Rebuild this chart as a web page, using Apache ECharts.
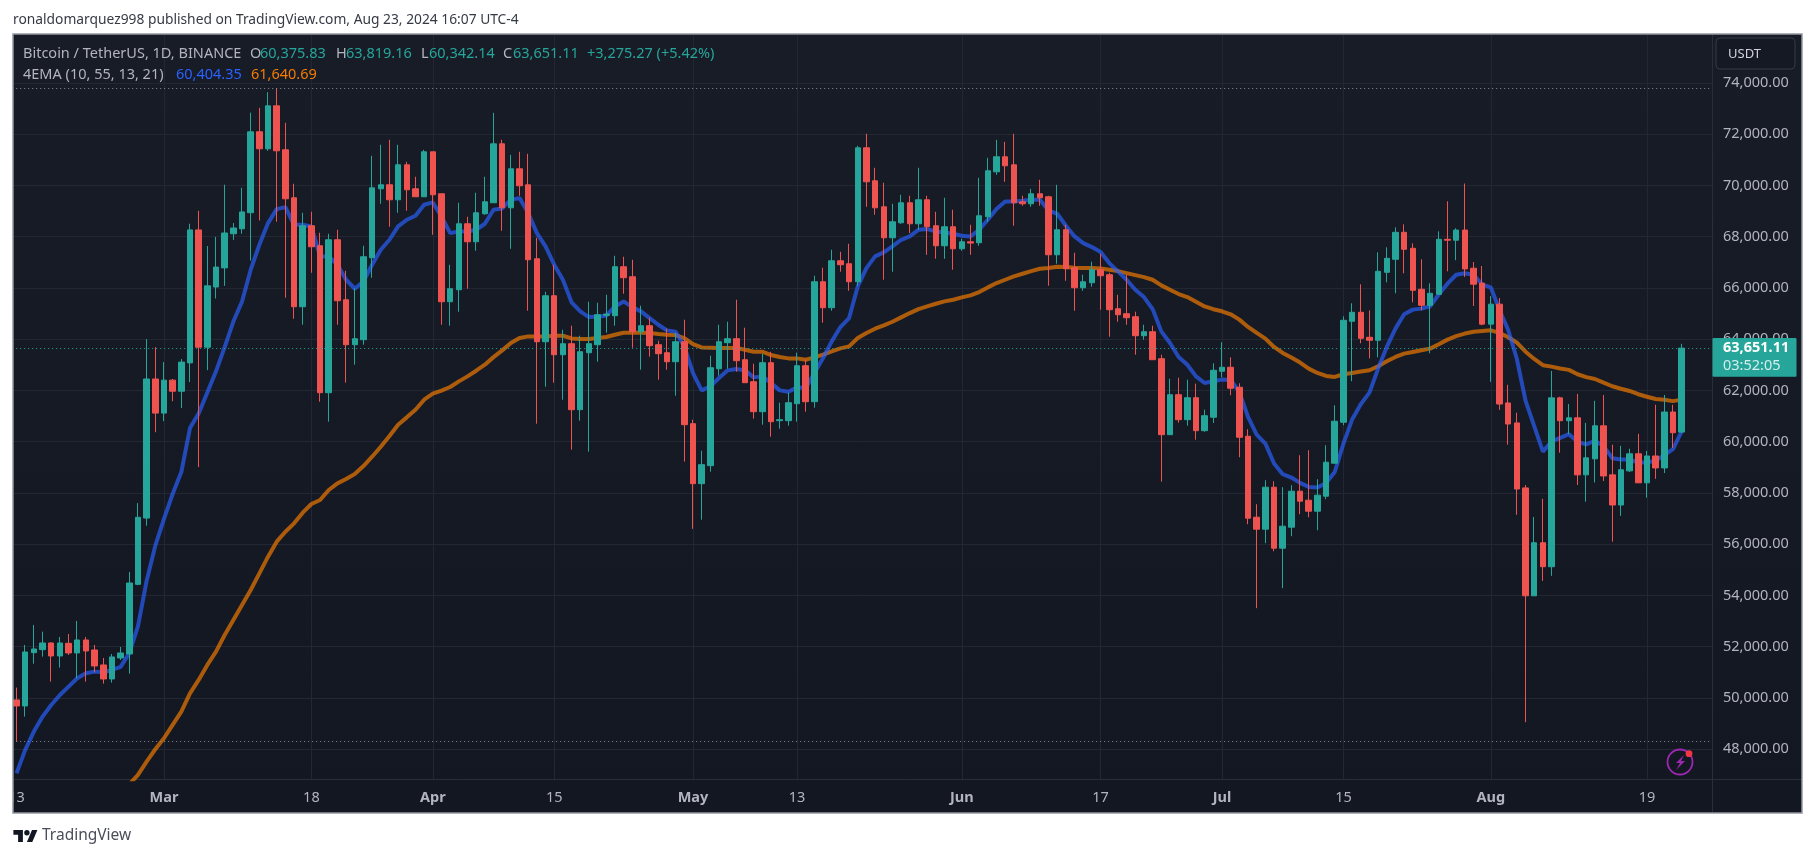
<!DOCTYPE html>
<html><head><meta charset="utf-8">
<style>html,body{margin:0;padding:0;background:#fff}#c{width:1815px;height:858px}</style>
<script src="https://cdn.jsdelivr.net/npm/echarts@6/dist/echarts.min.js"></script>
</head><body><div id="c"></div>
<script>
const categories = ["Feb 13","Feb 14","Feb 15","Feb 16","Feb 17","Feb 18","Feb 19","Feb 20","Feb 21","Feb 22","Feb 23","Feb 24","Feb 25","Feb 26","Feb 27","Feb 28","Feb 29",
"Mar 1","Mar 2","Mar 3","Mar 4","Mar 5","Mar 6","Mar 7","Mar 8","Mar 9","Mar 10","Mar 11","Mar 12","Mar 13","Mar 14","Mar 15","Mar 16","Mar 17","Mar 18","Mar 19","Mar 20","Mar 21","Mar 22","Mar 23","Mar 24","Mar 25","Mar 26","Mar 27","Mar 28","Mar 29","Mar 30","Mar 31",
"Apr 1","Apr 2","Apr 3","Apr 4","Apr 5","Apr 6","Apr 7","Apr 8","Apr 9","Apr 10","Apr 11","Apr 12","Apr 13","Apr 14","Apr 15","Apr 16","Apr 17","Apr 18","Apr 19","Apr 20","Apr 21","Apr 22","Apr 23","Apr 24","Apr 25","Apr 26","Apr 27","Apr 28","Apr 29","Apr 30",
"May 1","May 2","May 3","May 4","May 5","May 6","May 7","May 8","May 9","May 10","May 11","May 12","May 13","May 14","May 15","May 16","May 17","May 18","May 19","May 20","May 21","May 22","May 23","May 24","May 25","May 26","May 27","May 28","May 29","May 30","May 31",
"Jun 1","Jun 2","Jun 3","Jun 4","Jun 5","Jun 6","Jun 7","Jun 8","Jun 9","Jun 10","Jun 11","Jun 12","Jun 13","Jun 14","Jun 15","Jun 16","Jun 17","Jun 18","Jun 19","Jun 20","Jun 21","Jun 22","Jun 23","Jun 24","Jun 25","Jun 26","Jun 27","Jun 28","Jun 29","Jun 30",
"Jul 1","Jul 2","Jul 3","Jul 4","Jul 5","Jul 6","Jul 7","Jul 8","Jul 9","Jul 10","Jul 11","Jul 12","Jul 13","Jul 14","Jul 15","Jul 16","Jul 17","Jul 18","Jul 19","Jul 20","Jul 21","Jul 22","Jul 23","Jul 24","Jul 25","Jul 26","Jul 27","Jul 28","Jul 29","Jul 30","Jul 31",
"Aug 1","Aug 2","Aug 3","Aug 4","Aug 5","Aug 6","Aug 7","Aug 8","Aug 9","Aug 10","Aug 11","Aug 12","Aug 13","Aug 14","Aug 15","Aug 16","Aug 17","Aug 18","Aug 19","Aug 20","Aug 21","Aug 22","Aug 23","Aug 24","Aug 25","Aug 26"];
const xTickLabels = {"Feb 13":"13","Mar 1":"Mar","Mar 18":"18","Apr 1":"Apr","Apr 15":"15","May 1":"May","May 13":"13","Jun 1":"Jun","Jun 17":"17","Jul 1":"Jul","Jul 15":"15","Aug 1":"Aug","Aug 19":"19"};
const opens = [49924,49690,51770,51887,52147,51640,52134,51757,52264,51874,51289,50743,51562,51718,54434,57020,62447,61116,62402,61969,63075,68263,63688,66035,66782,68113,68307,68935,72091,71428,73105,71389,69517,65266,68425,67645,61912,67879,65539,63784,63979,67177,69868,70024,69439,70804,69868,69556,71311,69673,65461,65929,68503,67801,68893,69322,71623,69127,70648,70024,67138,63901,65695,63394,63823,61249,63472,63784,64930,64915,66826,66436,64291,64525,63784,63472,63121,63901,60703,58363,59065,62848,63862,64018,63199,62341,61171,63082,60820,60820,61483,62965,61561,66241,65227,67060,66943,66241,71467,70180,69166,67957,68542,69322,68503,69439,68425,67645,68386,67528,67801,67762,68776,70531,71116,70804,69361,69283,69673,69556,67294,68269,66787,66007,66202,66709,66514,65188,64993,64876,64135,64291,63238,60274,61834,60859,61717,60430,60954,62748,62904,62124,60213,57054,56586,58224,55845,56664,58068,57717,57288,57873,59160,60759,64698,65049,64074,63957,66609,67116,68169,67545,65946,65322,65751,67896,67860,68257,66769,66188,64587,65366,61512,60733,58197,53988,56057,55122,61710,60818,60931,58706,59330,60620,58706,57530,58862,59528,58395,59443,58976,61158,60375.83];
const closes = [49690,51796,51913,52147,51640,52147,51757,52264,51835,51250,50743,51601,51757,54487,57050,62447,61116,62402,61969,63105,68263,63688,66080,66812,68143,68337,68965,72090,71428,73105,71350,69478,65266,68425,67606,61912,67879,65500,63784,64018,67216,69907,70024,69439,70804,69829,69556,71311,69634,65461,65968,68503,67801,68932,69361,71623,69127,70648,69985,67099,63901,65695,63394,63823,61249,63511,63823,64954,64980,66826,66397,64291,64525,63745,63433,63121,63901,60664,58363,59104,62887,63901,64018,63160,62302,61171,63082,60781,60860,61522,62965,61561,66241,65227,67060,66904,66241,71467,70141,69127,67957,68581,69322,68503,69439,68386,67645,68386,67528,67801,67750,68815,70570,71116,70765,69322,69283,69673,69517,67294,68269,66748,66007,66241,66709,66475,65149,64954,64837,64135,64291,63199,60274,61834,60859,61717,60430,61015,62787,62904,62085,60174,57015,56586,58224,55845,56703,58068,57678,57288,57912,59199,60798,64737,65049,64035,63957,66648,67155,68169,67506,65907,65322,65790,67896,67860,68257,66741,66146,64587,65366,61470,60690,58154,53988,56057,55122,61710,60818,60931,58706,59372,60620,58664,57530,58905,59528,58395,59443,58976,61158,60350,63651.11];
const lows = [48300,49274,51341,51614,50639,51185,51679,50769,50639,51003,50561,50600,51484,50951,54400,56721,60369,60803,61580,61311,62327,59008,62791,65586,66080,67874,68113,67066,68633,71350,68581,65617,64798,64564,66592,61561,60781,64564,62302,63004,63784,66397,69283,68386,68932,69010,69556,69556,68074,64564,64525,65071,65968,67450,68854,69322,68230,67528,69595,65110,60703,62146,62302,61639,59689,60820,59611,63121,64252,64525,65773,63667,62809,63316,62419,62809,61795,59221,56600,56959,58831,62575,62848,62731,62302,60898,60664,60196,60508,60625,60781,61171,61327,64642,65110,66631,65890,66085,69166,68854,66319,66631,68503,68139,68269,67294,67138,67138,66709,67450,67294,67645,68581,70414,70141,68425,69205,69166,69205,66085,66943,66280,65110,65890,66046,65149,64096,64681,64564,63394,63979,63199,58441,60274,60742,60625,60079,60391,60730,62514,61812,59394,56781,53505,56040,55728,54285,56313,57171,57054,56547,57756,59160,60642,62358,63840,63255,63294,66219,65790,66570,65439,65127,63450,65751,66648,67081,66429,65296,64545,62334,61243,59883,57148,49056,53988,54569,54767,59571,60294,58310,57658,58409,58466,56099,57105,58820,58395,57814,58551,58777,59755,60342.14];
const highs = [50405,52069,52849,52589,52173,52381,52498,53005,52381,52069,51562,51718,51991,54916,57603,64002,63688,63105,62447,63224,68502,69010,67635,67993,70027,68532,69907,72837,73027,73638,73789,72442,70063,68932,68971,68152,68113,68269,66670,65981,67645,71155,71584,71779,71584,70921,70336,71389,71311,69673,66904,69322,68776,69712,70336,72832,71779,71194,71311,71233,67957,65851,66904,64369,64525,64135,65461,65422,65734,67255,67216,67099,65305,64837,63940,64408,64252,64759,60859,59650,63355,64564,64681,65539,64447,63043,63433,63511,61522,61912,63472,63199,66475,66787,67489,67411,67723,71545,72013,70687,70102,69283,69634,69595,70687,69595,68971,69517,69049,67918,68464,70297,71077,71779,71701,72013,69595,69868,70219,69595,70024,68464,67372,66514,67021,67333,66592,65734,66514,65071,64564,64525,63394,62458,62497,62419,62263,61249,63060,63879,63294,62280,60486,57561,58497,58458,58224,58302,59472,59667,58536,59862,61422,64893,65400,66141,65127,67389,67584,68364,68481,67740,67116,66180,68208,69378,68328,70071,67010,66854,65678,65607,62221,61130,58310,57063,57771,62759,61753,61470,61866,60733,61597,61824,59883,59840,59726,60308,59641,61441,61824,61441,63819.16];
const emaFast = [47064,47974,48689,49274,49729,50119,50444,50769,50964,51029,51003,51094,51216,51750,52794,54570,55944,56990,57960,58814,60533,61102,61923,62746,63688,64689,65467,66708,67684,68529,69075,69153,68464,68464,68399,67229,67229,66904,66319,65968,66254,66904,67489,67879,68399,68659,68815,69244,69335,68789,68139,68204,68204,68269,68503,69049,69101,69439,69504,68919,68139,67619,66904,66319,65435,65084,64863,64889,64915,65279,65474,65253,65084,64824,64564,64343,64291,63719,62679,62003,62159,62484,62783,62835,62783,62510,62549,62289,62003,61951,62120,62094,62679,63264,63914,64473,64824,66059,66774,67229,67385,67619,67879,68009,68269,68295,68204,68165,68113,68035,68009,68269,68659,69075,69374,69374,69400,69439,69439,69023,68893,68425,68009,67749,67593,67398,66969,66644,66319,65929,65643,65175,64304,63849,63303,63004,62549,62289,62358,62423,62410,61942,60967,60278,59927,59147,58731,58601,58393,58237,58211,58393,58822,59927,60863,61461,61916,62852,63697,64412,64971,65153,65192,65283,65751,66167,66514,66571,66514,66132,66018,65140,64360,63227,61597,60605,59613,60010,60152,60294,59996,59897,60038,59826,59358,59302,59302,59189,59189,59260,59472,59712,60404.35];
const emaSlow = [null,null,null,null,null,null,null,null,null,null,null,null,null,46630,47000,47519,48000,48429,48949,49469,50184,50704,51289,51809,52459,53044,53629,54214,54864,55514,56099,56489,56814,57230,57568,57724,58114,58374,58543,58738,59050,59414,59804,60220,60664,60950,61249,61639,61873,61990,62133,62354,62549,62770,63004,63300,63563,63849,64044,64109,64109,64109,64135,64135,64031,64005,64005,64044,64083,64174,64252,64252,64252,64239,64200,64174,64161,64044,63810,63680,63667,63654,63654,63654,63589,63511,63511,63381,63303,63251,63251,63199,63290,63394,63524,63641,63719,64044,64239,64408,64538,64681,64850,65019,65175,65279,65383,65474,65539,65630,65708,65838,66020,66189,66319,66449,66553,66657,66748,66774,66826,66813,66787,66774,66774,66761,66709,66657,66579,66501,66423,66319,66098,65929,65760,65643,65461,65279,65170,65088,64971,64763,64477,64243,64022,63697,63463,63281,63086,62852,62683,62566,62527,62631,62683,62735,62787,62943,63138,63307,63437,63502,63567,63632,63801,63983,64120,64219,64290,64318,64346,64247,64077,63864,63510,63227,62986,62929,62858,62802,62632,62518,62447,62305,62164,62065,61980,61852,61753,61668,61640,61583,61640.69];
const highLine = 73777, lowLine = 48300, lastPrice = 63651.11;
const headerText = "ronaldomarquez998 published on TradingView.com, Aug 23, 2024 16:07 UTC-4";

const UP='#26a69a', DOWN='#ef5350', TXT='#b2b5be', GRID='#232733', FONT='"Noto Sans",sans-serif';
const candles = opens.map((o,i)=>[o,closes[i],lows[i],highs[i]]);
const fmt = v => v.toLocaleString('en-US',{minimumFractionDigits:2,maximumFractionDigits:2});
const isTick = (i,v)=> xTickLabels[v]!==undefined;
const text = (x,y,t,fill,extra) => Object.assign({type:'text',z:120,silent:true,x,y,style:Object.assign({text:t,fill,font:'14.5px '+FONT,textVerticalAlign:'middle'},extra||{})});

const chart = echarts.init(document.getElementById('c'),null,{renderer:'canvas'});
const staticGraphic = [
  {type:'rect',z:-5,silent:true,shape:{x:13,y:34,width:1789,height:779},style:{fill:{type:'linear',x:0,y:0,x2:0,y2:1,colorStops:[{offset:0,color:'#181c27'},{offset:1,color:'#131722'}]}}},
  {type:'rect',z:110,silent:true,shape:{x:0,y:30,width:13,height:790},style:{fill:'#fff'}},
  {type:'rect',z:111,silent:true,shape:{x:13,y:34,width:1789,height:779},style:{fill:'none',stroke:'#9598a1',lineWidth:1.5}},
  {type:'line',z:1,silent:true,shape:{x1:1712.5,y1:34,x2:1712.5,y2:813},style:{stroke:'#2a2e39',lineWidth:1}},
  {type:'line',z:1,silent:true,shape:{x1:13,y1:779.5,x2:1802,y2:779.5},style:{stroke:'#2a2e39',lineWidth:1}},
  text(13,20,headerText,'#363a45',{font:'13.8px '+FONT}),
  text(23,54,'Bitcoin / TetherUS, 1D, BINANCE',TXT),
  text(250,54,'O',TXT),text(260,54,'60,375.83',UP),
  text(336,54,'H',TXT),text(346,54,'63,819.16',UP),
  text(421,54,'L',TXT),text(429,54,'60,342.14',UP),
  text(503,54,'C',TXT),text(513,54,'63,651.11',UP),
  text(587,54,'+3,275.27 (+5.42%)',UP),
  text(23,75,'4EMA (10, 55, 13, 21)',TXT),
  text(176,75,'60,404.35','#2962ff'),
  text(251,75,'61,640.69','#f57c00'),
  {type:'rect',z:115,silent:true,shape:{x:1716,y:38,width:79,height:31,r:4},style:{fill:'#151924',stroke:'#363a45',lineWidth:1}},
  text(1728,54,'USDT','#d1d4dc',{font:'13px '+FONT}),
  {type:'circle',z:115,silent:true,shape:{cx:1680,cy:762,r:12.5},style:{fill:'none',stroke:'#9c27b0',lineWidth:1.8}},
  {type:'polygon',z:115,silent:true,shape:{points:[[1684,755],[1676,763],[1680,763],[1676,770],[1685,761],[1681,761]]},style:{fill:'#9c27b0'}},
  {type:'circle',z:116,silent:true,shape:{cx:1689,cy:753.7,r:3.4},style:{fill:'#f23645'}},
  {type:'polygon',z:120,silent:true,shape:{points:[[13.4,830],[22.9,830],[22.9,842],[18.1,842],[18.1,834.7],[13.4,834.7]]},style:{fill:'#131722'}},
  {type:'polygon',z:120,silent:true,shape:{points:[[26.9,842],[32,830],[37.4,830],[32.3,842]]},style:{fill:'#131722'}},
  {type:'circle',z:120,silent:true,shape:{cx:26.9,cy:832.7,r:2.7},style:{fill:'#131722'}},
  text(42,836,'TradingView','#4a4e5a',{font:'15.5px '+FONT})
];
chart.setOption({
  animation:false,
  backgroundColor:'#fff',
  grid:{left:12.2,right:103,top:34,bottom:78.7,show:false,containLabel:false},
  xAxis:{type:'category',data:categories,boundaryGap:true,
    axisLine:{show:false},axisTick:{show:false},
    splitLine:{show:true,alignWithLabel:true,interval:(i,v)=>isTick(i,v)&&i>0,lineStyle:{color:GRID,width:1}},
    axisLabel:{interval:isTick,margin:11,fontFamily:FONT,fontSize:14.5,color:TXT,
      formatter:v=>{const t=xTickLabels[v];return /[A-Z]/.test(t)?'{b|'+t+'}':t;},
      rich:{b:{fontWeight:'bold',fontFamily:FONT,fontSize:14.5,color:TXT}}}},
  yAxis:{type:'value',position:'right',scale:true,min:46828,max:75907,splitNumber:15,
    axisLine:{show:false},axisTick:{show:false},
    splitLine:{show:true,showMinLine:false,showMaxLine:false,lineStyle:{color:GRID,width:1}},
    axisLabel:{margin:11,fontFamily:FONT,fontSize:14.5,color:TXT,showMinLabel:false,showMaxLabel:false,formatter:fmt}},
  series:[
    {name:'EMA 55',type:'line',z:1,data:emaSlow,showSymbol:false,symbol:'none',connectNulls:false,lineStyle:{color:'#f57c00',width:4,opacity:.68},silent:true},
    {name:'EMA 10',type:'line',z:1,data:emaFast,showSymbol:false,symbol:'none',lineStyle:{color:'#2962ff',width:4,opacity:.68},silent:true},
    {name:'BTCUSDT',type:'candlestick',z:3,data:candles,barWidth:6,
      itemStyle:{color:UP,color0:DOWN,borderColor:UP,borderColor0:DOWN,borderWidth:1},
      markLine:{silent:true,symbol:'none',label:{show:false},animation:false,z:4,data:[
        {yAxis:highLine,lineStyle:{color:'#8a8d97',type:[1,3],width:1}},
        {yAxis:lowLine,lineStyle:{color:'#8a8d97',type:[1,3],width:1}},
        {yAxis:lastPrice,lineStyle:{color:UP,type:[1,3],width:1}}]}}
  ],
  graphic:staticGraphic
});
const py = chart.convertToPixel({yAxisIndex:0},lastPrice);
chart.setOption({graphic:staticGraphic.concat([
  {type:'rect',z:115,silent:true,shape:{x:1712.5,y:py-10,width:84,height:38.7,r:1},style:{fill:UP}},
  text(1723,py,fmt(lastPrice),'#ffffff',{font:'bold 14.5px '+FONT}),
  text(1723,py+18,'03:52:05','#d4eeeb')
])});
</script></body></html>
